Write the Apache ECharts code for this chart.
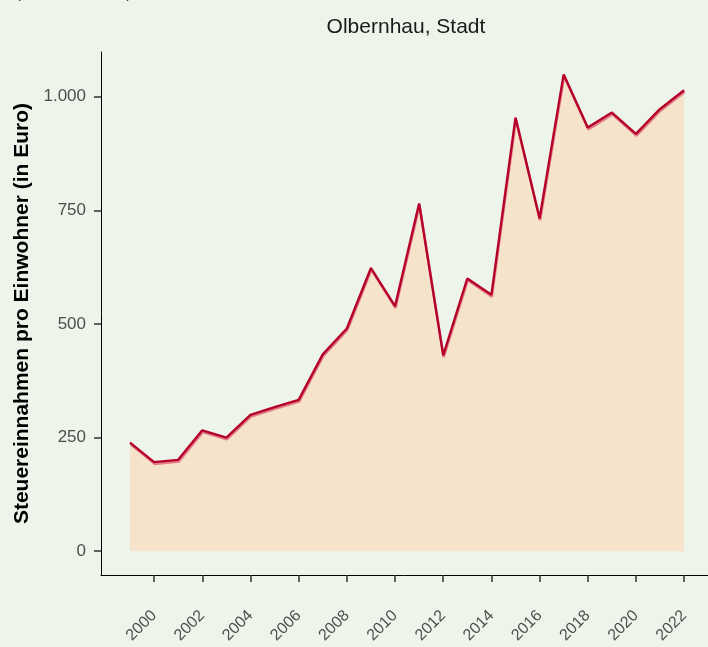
<!DOCTYPE html>
<html>
<head>
<meta charset="utf-8">
<script src="https://cdn.jsdelivr.net/npm/echarts@6/dist/echarts.min.js"></script>
<style>
  html, body { margin: 0; padding: 0; background: #EDF5EB; }
  #chart { width: 708px; height: 647px; }
</style>
</head>
<body>
<div id="chart"></div>
<script>
  // Jahre und Steuereinnahmen je Einwohner (Euro)
  var years = [1999, 2000, 2001, 2002, 2003, 2004, 2005, 2006, 2007, 2008, 2009, 2010,
               2011, 2012, 2013, 2014, 2015, 2016, 2017, 2018, 2019, 2020, 2021, 2022];
  var values = [239, 196, 201, 266, 250, 300, 317, 333, 433, 490, 623, 539,
                765, 431, 600, 564, 954, 732, 1049, 932, 965, 918, 973, 1014];
  var xTicks = [2000, 2002, 2004, 2006, 2008, 2010, 2012, 2014, 2016, 2018, 2020, 2022];
  var yTicks = [0, 250, 500, 750, 1000];

  var chart = echarts.init(document.getElementById('chart'));
  var points = years.map(function (y, i) { return [y, values[i]]; });

  chart.setOption({
    backgroundColor: '#EDF5EB',
    textStyle: { fontFamily: 'Liberation Sans, Arial, sans-serif' },
    title: [
      {
        text: 'Olbernhau, Stadt',
        left: 406, top: 17, textAlign: 'center', padding: 0,
        textStyle: { fontSize: 21, fontWeight: 'normal', color: '#1a1a1a' }
      },
      {
        // abgeschnittene Zeile oben links
        text: '(Stadt Olbernhau)',
        left: 16, top: -14, padding: 0,
        textStyle: { fontSize: 14.5, fontWeight: 'normal', color: '#1a1a1a' }
      }
    ],
    grid: { left: 101, right: 0, top: 52, bottom: 72, containLabel: false },
    xAxis: {
      type: 'value',
      min: 1997.796, max: 2022.99,
      splitLine: { show: false },
      axisLine: { show: true, onZero: false, lineStyle: { color: '#000', width: 1 } },
      axisTick: { show: true, customValues: xTicks, length: 7, lineStyle: { color: '#333', width: 1.5 } },
      axisLabel: {
        customValues: xTicks, rotate: 45, margin: 38,
        color: '#4d4d4d', fontSize: 16,
        formatter: function (v) { return String(v); }
      }
    },
    yAxis: {
      type: 'value',
      min: -52.3, max: 1098.3,
      name: 'Steuereinnahmen pro Einwohner (in Euro)',
      nameLocation: 'middle', nameGap: 67,
      nameTextStyle: { fontSize: 21, fontWeight: 'bold', color: '#000' },
      splitLine: { show: false },
      axisLine: { show: true, onZero: false, lineStyle: { color: '#000', width: 1 } },
      axisTick: { show: true, customValues: yTicks, length: 7, lineStyle: { color: '#333', width: 1.5 } },
      axisLabel: {
        customValues: yTicks, margin: 15,
        color: '#4d4d4d', fontSize: 17,
        formatter: function (v) { return v >= 1000 ? (v / 1000) + '.000' : String(v); }
      }
    },
    series: [{
      type: 'line',
      data: points,
      symbol: 'none',
      lineStyle: {
        color: '#B5002B', width: 2.4,
        shadowColor: 'rgba(215, 70, 95, 0.65)', shadowOffsetY: 1.8, shadowOffsetX: 0.5, shadowBlur: 0
      },
      areaStyle: { color: '#F5E3CB', opacity: 1, origin: 0 },
      z: 2
    }]
  });
</script>
</body>
</html>
